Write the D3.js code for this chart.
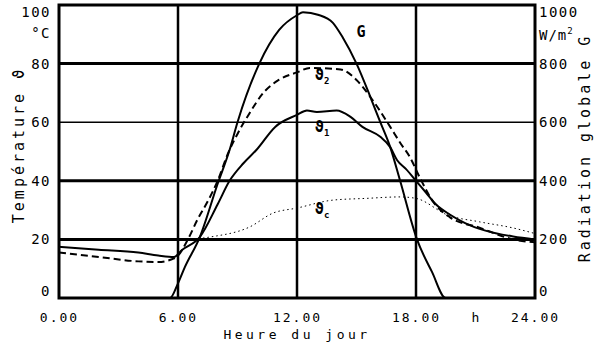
<!DOCTYPE html>
<html>
<head>
<meta charset="utf-8">
<script src="https://cdn.jsdelivr.net/npm/d3@7"></script>
<style>
body { margin: 0; background: #fff; }
svg { display: block; }
text { font-family: "DejaVu Sans Mono", monospace; fill: #000; }
</style>
</head>
<body>
<svg width="599" height="342"></svg>
<script>
var svg = d3.select('svg');

// hour ticks and labels
var hourTicks = [0, 6, 12, 18, 24];
var tempTicks = [0, 20, 40, 60, 80, 100];
var radTicks = [0, 200, 400, 600, 800, 1000];

// global radiation G (W/m2) against hour of day
var gHours = [0, 3, 5.6, 6.0, 6.35, 7.1, 8.0, 8.6, 9.0, 10.1, 11.1, 12.0, 12.3, 13.1, 13.8, 14.3, 15.0, 15.7, 16.2, 16.7, 17.2, 18.05, 18.8, 19.5, 21, 24];
var gValues = [0, 0, 0, 50, 106, 208, 390, 505, 600, 800, 915, 965, 975, 966, 940, 890, 800, 686, 600, 515, 400, 200, 90, 0, 0, 0];

// temperature theta1 (solid)
var t1Hours = [0, 2, 4, 5, 5.8, 6.2, 7.1, 8.0, 8.6, 9.3, 9.95, 10.9, 12.0, 12.5, 13.0, 14.0, 14.7, 15.3, 16.2, 16.7, 17.05, 17.5, 18.0, 18.5, 19.0, 19.7, 20.5, 21.5, 22.9, 24];
var t1Values = [17.5, 16.5, 15.5, 14.5, 14, 16.4, 20.8, 32, 40, 46, 50.5, 58.4, 62.5, 64, 63.5, 64, 61.8, 58.4, 55, 51.5, 47, 44, 40, 36, 32, 28.5, 25.5, 23, 21, 20];

// temperature theta2 (dashed)
var t2Hours = [0, 2, 4, 5, 5.8, 6.0, 6.5, 7.0, 7.5, 8.0, 8.5, 9.0, 9.6, 10.3, 11.1, 12.0, 12.65, 14.2, 15.0, 15.7, 16.7, 17.2, 17.7, 18.2, 18.85, 19.7, 21.2, 22.9, 24];
var t2Values = [15.5, 14, 12.5, 12.3, 13.5, 14.5, 20, 27, 33, 40, 49, 56, 63, 70, 74.5, 77, 78.5, 78, 74.4, 68.6, 58.4, 53, 48, 41, 33, 27.6, 24, 20, 19];

// temperature thetac (dotted)
var tcHours = [0, 3, 6, 7.1, 7.6, 9.6, 10.8, 12.0, 13.8, 15.5, 17.2, 18.0, 19.6, 21.2, 22.9, 24];
var tcValues = [20, 19.8, 19.8, 20.3, 20.8, 24.2, 29, 30.7, 33.4, 34, 34.5, 34, 28.3, 26, 23.9, 22];

var x = d3.scaleLinear().domain([0, 24]).range([59, 535]);
var y = d3.scaleLinear().domain([0, 100]).range([298, 5]);
var yG = d3.scaleLinear().domain([0, 1000]).range([298, 5]);

//grid lines
svg.selectAll('.hgrid')
    .data([20, 40, 60, 80])
    .enter()
    .append('line')
    .attr('x1', x(0)).attr('x2', x(24))
    .attr('y1', function(d){ return y(d); })
    .attr('y2', function(d){ return y(d); })
    .attr('stroke', '#000')
    .attr('stroke-width', function(d){ return d == 60 ? 1.5 : 3; });

svg.selectAll('.vgrid')
    .data([6, 12, 18])
    .enter()
    .append('line')
    .attr('y1', y(0)).attr('y2', y(100))
    .attr('x1', function(d){ return x(d); })
    .attr('x2', function(d){ return x(d); })
    .attr('stroke', '#000')
    .attr('stroke-width', 2.5);

//curves
function drawCurve(hours, values, scale, width, dash){
    var pts = hours.map(function(h, i){ return [h, values[i]]; });
    var line = d3.line()
        .x(function(d){ return x(d[0]); })
        .y(function(d){ return scale(d[1]); })
        .curve(d3.curveMonotoneX);
    svg.append('path')
        .datum(pts)
        .attr('d', line)
        .attr('fill', 'none')
        .attr('stroke', '#000')
        .attr('stroke-width', width)
        .attr('stroke-dasharray', dash);
}

drawCurve(tcHours, tcValues, y, 1, '1.5,3');
drawCurve(gHours, gValues, yG, 2, null);
drawCurve(t1Hours, t1Values, y, 2, null);
drawCurve(t2Hours, t2Values, y, 2, '7,4');

//frame
svg.append('rect')
    .attr('x', x(0)).attr('y', y(100))
    .attr('width', x(24) - x(0)).attr('height', y(0) - y(100))
    .attr('fill', 'none')
    .attr('stroke', '#000')
    .attr('stroke-width', 3);

//axes
var fmtHour = function(d){ return d3.format('.2f')(d); };
var xAxis = svg.append('g')
    .attr('transform', 'translate(0,' + y(0) + ')')
    .call(d3.axisBottom(x).tickValues(hourTicks).tickSize(0).tickPadding(15).tickFormat(fmtHour));

var yAxis = svg.append('g')
    .attr('transform', 'translate(' + (x(0) - 8) + ',0)')
    .call(d3.axisLeft(y).tickValues(tempTicks).tickSize(0).tickPadding(0).tickFormat(d3.format('d')));

var gAxis = svg.append('g')
    .attr('transform', 'translate(' + (x(24) + 4) + ',0)')
    .call(d3.axisRight(yG).tickValues(radTicks).tickSize(0).tickPadding(0).tickFormat(d3.format('d')));

[xAxis, yAxis, gAxis].forEach(function(a){
    a.select('.domain').remove();
    a.selectAll('text')
        .style('font-family', '"DejaVu Sans Mono", monospace')
        .style('font-size', '14px')
        .style('letter-spacing', '1.5px')
        .attr('fill', '#000');
});
xAxis.selectAll('text').style('font-size', '13px').style('letter-spacing', '2px').attr('dy', '0.68em');

//pull the top and bottom labels inward like the original
yAxis.selectAll('.tick text').attr('dy', function(d){ return d == 100 ? '0.85em' : d == 0 ? '-0.15em' : '0.32em'; });
gAxis.selectAll('.tick text').attr('dy', function(d){ return d == 1000 ? '0.85em' : d == 0 ? '-0.15em' : '0.32em'; });

//unit labels
svg.append('text').attr('x', 51).attr('y', 38).attr('text-anchor', 'end')
    .style('font-size', '14px').style('letter-spacing', '1.5px').text('°C');
svg.append('text').attr('x', 539).attr('y', 40)
    .style('font-size', '14px').style('letter-spacing', '1px')
    .text('W/m').append('tspan').attr('dy', -6).style('font-size', '9px').text('2');
svg.append('text').attr('x', x(21)).attr('y', 322).attr('text-anchor', 'middle')
    .style('font-size', '13px').text('h');

//axis titles
svg.append('text').attr('x', x(12)).attr('y', 338.5).attr('text-anchor', 'middle')
    .style('font-size', '13px').style('letter-spacing', '3.5px').text('Heure du jour');
svg.append('text').attr('transform', 'translate(24,145) rotate(-90)').attr('text-anchor', 'middle')
    .style('font-size', '15px').style('letter-spacing', '3px').text('Température ϑ');
svg.append('text').attr('transform', 'translate(590,148) rotate(-90)').attr('text-anchor', 'middle')
    .style('font-size', '15px').style('letter-spacing', '3px').text('Radiation globale G');

//curve labels
var curveLabels = [
    {t: 'G', sub: '', h: 15.0, v: 89},
    {t: 'ϑ', sub: '2', h: 12.9, v: 74.5},
    {t: 'ϑ', sub: '1', h: 12.9, v: 56.5},
    {t: 'ϑ', sub: 'c', h: 12.9, v: 28.5}
];
curveLabels.forEach(function(d){
    var t = svg.append('text').attr('x', x(d.h)).attr('y', y(d.v))
        .style('font-size', '15px').style('font-weight', 'bold').text(d.t);
    if(d.sub){
        t.append('tspan').attr('dy', 4).style('font-size', '9px').text(d.sub);
    }
});
</script>
</body>
</html>
